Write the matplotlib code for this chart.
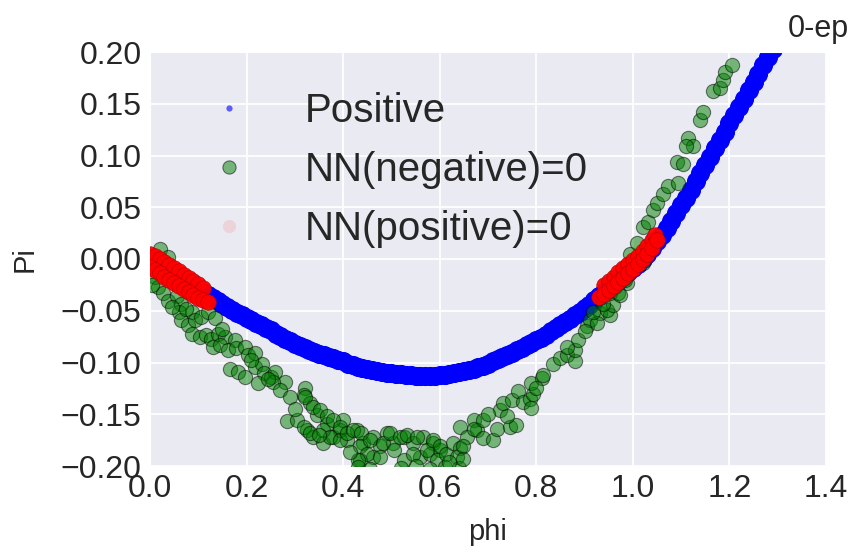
import matplotlib
matplotlib.use("Agg")
import matplotlib.pyplot as plt
from matplotlib.lines import Line2D
import seaborn as sns

# Positive samples: the fitted Pi(phi) curve
blue_phi = [0.00, 0.01, 0.02, 0.03, 0.04, 0.05, 0.06, 0.07, 0.08, 0.09,
            0.10, 0.11, 0.12, 0.13, 0.14, 0.15, 0.16, 0.17, 0.18, 0.19,
            0.20, 0.21, 0.22, 0.23, 0.24, 0.25, 0.26, 0.27, 0.28, 0.29,
            0.30, 0.31, 0.32, 0.33, 0.34, 0.35, 0.36, 0.37, 0.38, 0.39,
            0.40, 0.41, 0.42, 0.43, 0.44, 0.45, 0.46, 0.47, 0.48, 0.49,
            0.50, 0.51, 0.52, 0.53, 0.54, 0.55, 0.56, 0.57, 0.58, 0.59,
            0.60, 0.61, 0.62, 0.63, 0.64, 0.65, 0.66, 0.67, 0.68, 0.69,
            0.70, 0.71, 0.72, 0.73, 0.74, 0.75, 0.76, 0.77, 0.78, 0.79,
            0.80, 0.81, 0.82, 0.83, 0.84, 0.85, 0.86, 0.87, 0.88, 0.89,
            0.90, 0.91, 0.92, 0.93, 0.94, 0.95, 0.96, 0.97, 0.98, 0.99,
            1.00, 1.01, 1.02, 1.03, 1.04, 1.05, 1.06, 1.07, 1.08, 1.09,
            1.10, 1.11, 1.12, 1.13, 1.14, 1.15, 1.16, 1.17, 1.18, 1.19,
            1.20, 1.21, 1.22, 1.23, 1.24, 1.25, 1.26, 1.27, 1.28, 1.29,
            1.30]
blue_pi = [0.000, -0.003, -0.006, -0.009, -0.012, -0.015, -0.018, -0.021, -0.024, -0.027,
           -0.030, -0.032, -0.035, -0.038, -0.041, -0.043, -0.046, -0.049, -0.052, -0.054,
           -0.057, -0.059, -0.062, -0.064, -0.067, -0.069, -0.072, -0.074, -0.077, -0.079,
           -0.082, -0.084, -0.086, -0.088, -0.090, -0.092, -0.093, -0.095, -0.096, -0.098,
           -0.099, -0.101, -0.102, -0.104, -0.105, -0.106, -0.107, -0.108, -0.109, -0.110,
           -0.110, -0.111, -0.111, -0.112, -0.112, -0.113, -0.113, -0.113, -0.113, -0.113,
           -0.112, -0.112, -0.111, -0.110, -0.109, -0.108, -0.107, -0.106, -0.104, -0.103,
           -0.101, -0.099, -0.097, -0.095, -0.093, -0.091, -0.088, -0.086, -0.083, -0.081,
           -0.078, -0.076, -0.073, -0.070, -0.067, -0.064, -0.061, -0.058, -0.054, -0.051,
           -0.047, -0.044, -0.040, -0.036, -0.032, -0.029, -0.025, -0.021, -0.017, -0.013,
           -0.009, -0.005, 0.000, 0.005, 0.011, 0.017, 0.023, 0.030, 0.037, 0.044,
           0.052, 0.059, 0.067, 0.075, 0.083, 0.091, 0.099, 0.107, 0.115, 0.123,
           0.131, 0.139, 0.147, 0.155, 0.163, 0.171, 0.179, 0.187, 0.195, 0.203,
           0.211]

# NN(negative)=0 samples
green_phi = [0.020, 0.037, 0.010, 0.017, 0.027, 0.037, 0.055, 0.065, 0.061, 0.086,
             0.065, 0.079, 0.093, 0.106, 0.120, 0.134, 0.086, 0.103, 0.117, 0.127,
             0.141, 0.155, 0.175, 0.130, 0.144, 0.162, 0.179, 0.196, 0.203, 0.217,
             0.165, 0.182, 0.196, 0.217, 0.231, 0.237, 0.251, 0.258, 0.279, 0.224,
             0.320, 0.005,
             0.255, 0.269, 0.290, 0.283, 0.304, 0.318, 0.331, 0.345, 0.366, 0.325,
             0.338, 0.359, 0.380, 0.393, 0.407, 0.400, 0.428, 0.442, 0.462, 0.476,
             0.435, 0.462, 0.490, 0.504, 0.525, 0.545, 0.566, 0.587, 0.559, 0.580,
             0.600,
             0.321, 0.338, 0.318, 0.331, 0.352, 0.366, 0.359, 0.380, 0.393, 0.373,
             0.393, 0.407, 0.421, 0.438, 0.435, 0.449, 0.431, 0.456, 0.476, 0.483,
             0.497, 0.518, 0.532, 0.552, 0.525, 0.545, 0.573, 0.587, 0.600, 0.594,
             0.614, 0.628, 0.642, 0.635, 0.642, 0.656, 0.670, 0.677,
             0.430, 0.455, 0.520, 0.550, 0.580, 0.610, 0.640,
             0.649, 0.649, 0.670, 0.690, 0.690, 0.711, 0.718, 0.725, 0.732, 0.745,
             0.759, 0.749, 0.763, 0.773, 0.787, 0.790, 0.794, 0.790, 0.811, 0.814,
             0.835, 0.849, 0.863, 0.880, 0.880, 0.887,
             0.863, 0.904, 0.911, 0.932, 0.953, 0.946, 0.959, 0.925, 0.918, 0.939,
             0.970, 0.987, 0.994, 1.008, 1.022, 1.032, 1.042, 1.049, 1.063, 1.073,
             1.094, 1.091, 1.104, 1.115, 1.125, 1.111, 1.139, 1.146, 1.167, 1.180,
             1.187, 1.191, 1.205, 0.984, 0.953, 0.973, 1.022,
             0.045, 0.075, 0.150, 0.210, 0.245, 0.300, 0.350, 0.415, 0.505, 0.620,
             0.700, 0.740, 0.800, 0.900]
green_pi = [0.010, 0.002, -0.017, -0.027, -0.033, -0.041, -0.036, -0.043, -0.051, -0.051,
            -0.059, -0.064, -0.059, -0.056, -0.051, -0.057, -0.072, -0.075, -0.073, -0.077,
            -0.072, -0.075, -0.078, -0.085, -0.083, -0.088, -0.086, -0.085, -0.093, -0.091,
            -0.106, -0.109, -0.114, -0.104, -0.101, -0.110, -0.114, -0.109, -0.119, -0.120,
            -0.125, -0.025,
            -0.119, -0.127, -0.133, -0.157, -0.156, -0.131, -0.139, -0.151, -0.159, -0.165,
            -0.172, -0.178, -0.172, -0.165, -0.175, -0.156, -0.165, -0.178, -0.172, -0.181,
            -0.194, -0.191, -0.168, -0.178, -0.172, -0.178, -0.172, -0.178, -0.191, -0.188,
            -0.185,
            -0.133, -0.143, -0.162, -0.168, -0.146, -0.152, -0.165, -0.156, -0.162, -0.172,
            -0.175, -0.168, -0.165, -0.168, -0.181, -0.188, -0.194, -0.175, -0.191, -0.178,
            -0.168, -0.172, -0.170, -0.172, -0.194, -0.188, -0.185, -0.175, -0.181, -0.194,
            -0.188, -0.178, -0.183, -0.191, -0.162, -0.172, -0.156, -0.165,
            -0.201, -0.203, -0.202, -0.200, -0.203, -0.201, -0.202,
            -0.181, -0.193, -0.164, -0.156, -0.173, -0.175, -0.164, -0.146, -0.139, -0.162,
            -0.160, -0.136, -0.128, -0.138, -0.135, -0.144, -0.130, -0.120, -0.115, -0.112,
            -0.101, -0.096, -0.093, -0.099, -0.088, -0.078,
            -0.085, -0.065, -0.059, -0.052, -0.054, -0.049, -0.044, -0.062, -0.051, -0.043,
            -0.033, -0.023, 0.005, 0.015, 0.031, 0.036, 0.047, 0.054, 0.063, 0.071,
            0.073, 0.094, 0.092, 0.117, 0.109, 0.109, 0.134, 0.142, 0.162, 0.165,
            0.173, 0.181, 0.187, -0.020, -0.033, -0.035, -0.004,
            -0.046, -0.048, -0.068, -0.098, -0.116, -0.145, -0.170, -0.186, -0.185, -0.196,
            -0.150, -0.152, -0.125, -0.070]

# NN(positive)=0 samples
red_phi = [0.00, 0.01, 0.02, 0.03, 0.04, 0.05, 0.06, 0.07, 0.08, 0.09, 0.10, 0.11,
           0.00, 0.01, 0.02, 0.03, 0.04, 0.05, 0.06, 0.07, 0.08, 0.09, 0.10, 0.11, 0.12,
           0.94, 0.95, 0.96, 0.97, 0.98, 0.99, 1.00, 1.01, 1.02, 1.03, 1.04, 1.045,
           0.93, 0.94, 0.95, 0.96, 0.97, 0.98, 0.99, 1.00, 1.01, 1.02, 1.03, 1.04, 1.05]
red_pi = [0.005, 0.003, 0.000, -0.003, -0.006, -0.009, -0.012, -0.015, -0.018, -0.021, -0.024, -0.028,
          -0.008, -0.011, -0.014, -0.017, -0.020, -0.023, -0.026, -0.029, -0.032, -0.035, -0.038, -0.040, -0.042,
          -0.025, -0.021, -0.017, -0.013, -0.009, -0.005, -0.001, 0.003, 0.008, 0.013, 0.018, 0.023,
          -0.037, -0.034, -0.030, -0.026, -0.022, -0.018, -0.014, -0.010, -0.005, 0.000, 0.005, 0.011, 0.018]

labels = ["Positive", "NN(negative)=0", "NN(positive)=0"]

sns.set_style("darkgrid")
plt.rcParams["font.family"] = ["Liberation Sans", "DejaVu Sans"]
plt.rcParams["text.color"] = "#262626"
plt.rcParams["axes.labelcolor"] = "#262626"
plt.rcParams["xtick.color"] = "#262626"
plt.rcParams["ytick.color"] = "#262626"

fig = plt.figure(figsize=(8.55, 5.56), dpi=100)
ax = fig.add_axes([150 / 855, 1 - 466 / 556, 676 / 855, 414 / 556])

ax.scatter(blue_phi, blue_pi, s=190, color="blue", linewidths=0, zorder=2)
ax.scatter(green_phi, green_pi, s=105, color="green", alpha=0.5,
           edgecolors="black", linewidths=0.8, zorder=3)
ax.scatter(red_phi, red_pi, s=125, color="red", alpha=0.95,
           edgecolors="#b00000", linewidths=0.4, zorder=4)

ax.set_xlim(0, 1.4)
ax.set_ylim(-0.2, 0.2)
ax.set_xticks([0.0, 0.2, 0.4, 0.6, 0.8, 1.0, 1.2, 1.4])
ax.set_yticks([-0.20, -0.15, -0.10, -0.05, 0.00, 0.05, 0.10, 0.15, 0.20])
ax.tick_params(labelsize=23, length=0, pad=6)
ax.grid(color="white", linewidth=1.3)
ax.set_xlabel("phi", fontsize=21, labelpad=10)
ax.set_ylabel("Pi", fontsize=21, labelpad=16)

handles = [
    Line2D([], [], ls="", marker="o", markersize=4.5, color="blue", alpha=0.6,
           markeredgewidth=0),
    Line2D([], [], ls="", marker="o", markersize=9.5, markerfacecolor="green",
           markeredgecolor="black", markeredgewidth=0.8, alpha=0.5),
    Line2D([], [], ls="", marker="o", markersize=9.5, color="red", alpha=0.1,
           markeredgewidth=0),
]
ax.legend(handles, labels, loc="upper left", bbox_to_anchor=(0.034, 0.943),
          fontsize=29, frameon=False, handletextpad=0.88, labelspacing=0.52,
          borderaxespad=0)

fig.text(788 / 855, 1 - 37 / 556, "0-ep", fontsize=22, va="baseline")

fig.savefig("out.png", dpi=100)
